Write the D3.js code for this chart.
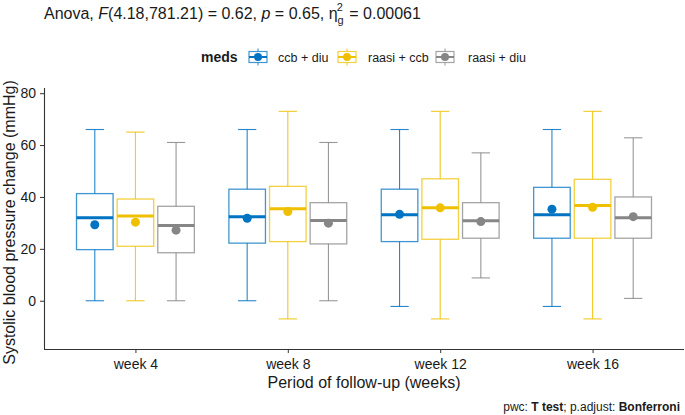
<!DOCTYPE html>
<html>
<head>
<meta charset="utf-8">
<script src="https://cdn.jsdelivr.net/npm/d3@7"></script>
<style>
  body { margin: 0; background: #fff; }
  text { font-family: "Liberation Sans", Arial, sans-serif; fill: #1a1a1a; }
</style>
</head>
<body>
<svg class="chart_svg" width="685" height="415"></svg>
<script>
// categories
var weeks = ["week 4", "week 8", "week 12", "week 16"];
var meds = ["ccb + diu", "raasi + ccb", "raasi + diu"];
var colors = ["#0073C2", "#EFC000", "#868686"];

// per week: [lower whisker, q1, median, q3, upper whisker, mean]
var ccbDiu = [
  [0, 19.7, 32, 41.3, 66, 29.3],
  [0, 22.2, 32.4, 43, 66, 31.8],
  [-2.2, 22.8, 33.1, 43, 66, 33.3],
  [-2.2, 24.1, 33.1, 43.7, 66, 35.3]
];
var raasiCcb = [
  [0, 21, 32.7, 39.2, 65, 30.3],
  [-7, 22.8, 35.5, 44.1, 73, 34.4],
  [-7, 23.7, 35.8, 47, 73, 35.8],
  [-7, 24.1, 36.7, 46.8, 73, 36]
];
var raasiDiu = [
  [0, 18.5, 29, 36.4, 61, 27.2],
  [0, 21.9, 30.9, 37.8, 61, 29.9],
  [8.8, 24.1, 30.8, 37.8, 57, 30.5],
  [0.9, 24.1, 32, 40, 62.8, 32.4]
];
var yTicks = [0, 20, 40, 60, 80];

var series = [ccbDiu, raasiCcb, raasiDiu];

var margin = { top: 88, right: 1, bottom: 66, left: 44 },
  w = 685 - margin.left - margin.right,
  h = 415 - margin.top - margin.bottom;

var svg = d3.select(".chart_svg");
var g = svg.append("g").attr("transform", `translate(${margin.left}, ${margin.top})`);

// discrete axis like ggplot: 0.6 expand on each side
var step = w / (weeks.length + 0.2);
var x_scale = d3.scalePoint().domain(weeks).range([0.6 * step, w - 0.6 * step]);
var slot = step * 0.8 / meds.length;
var x_dodge = d3.scaleBand().domain(meds).range([-slot * 1.5, slot * 1.5]);
var boxW = slot * 0.9;

var y_scale = d3.scaleLinear().domain([-18.6, 82]).range([h, 0]);

// axes
var xAxis = g.append("g")
  .attr("transform", `translate(0, ${h})`)
  .call(d3.axisBottom(x_scale).tickSize(4).tickPadding(6));
var yAxis = g.append("g")
  .call(d3.axisLeft(y_scale).tickValues(yTicks).tickSize(4).tickPadding(4));
[xAxis, yAxis].forEach(function (a) {
  a.select(".domain").attr("stroke", "#333").attr("stroke-width", 1.1);
  a.selectAll(".tick line").attr("stroke", "#333");
  a.selectAll(".tick text").style("font-size", "14px").attr("fill", "#1a1a1a")
    .style("font-family", "'Liberation Sans', Arial, sans-serif");
});
xAxis.select(".domain").attr("d", `M0,0.5H${w}`);
yAxis.select(".domain").attr("d", `M0.5,0V${h}`);

// boxes
series.forEach(function (rows, si) {
  var col = colors[si];
  var sg = g.append("g");
  var grp = sg.selectAll("g.box")
    .data(rows.map(function (r, i) { return { week: weeks[i], v: r }; }))
    .join("g")
    .attr("class", "box")
    .attr("transform", function (d) {
      return `translate(${x_scale(d.week) + x_dodge(meds[si]) + x_dodge.bandwidth() / 2}, 0)`;
    });

  grp.append("line")
    .attr("y1", function (d) { return y_scale(d.v[0]); })
    .attr("y2", function (d) { return y_scale(d.v[4]); })
    .attr("stroke", col).attr("stroke-width", 1.1).attr("stroke-opacity", 0.85);
  grp.selectAll("line.cap")
    .data(function (d) { return [d.v[0], d.v[4]]; })
    .join("line")
    .attr("class", "cap")
    .attr("x1", -boxW / 4).attr("x2", boxW / 4)
    .attr("y1", function (d) { return y_scale(d); })
    .attr("y2", function (d) { return y_scale(d); })
    .attr("stroke", col).attr("stroke-width", 1.1).attr("stroke-opacity", 0.85);
  grp.append("rect")
    .attr("x", -boxW / 2).attr("width", boxW)
    .attr("y", function (d) { return y_scale(d.v[3]); })
    .attr("height", function (d) { return y_scale(d.v[1]) - y_scale(d.v[3]); })
    .attr("fill", "#fff")
    .attr("stroke", col).attr("stroke-width", 1.3).attr("stroke-opacity", 0.75);
  grp.append("line")
    .attr("x1", -boxW / 2).attr("x2", boxW / 2)
    .attr("y1", function (d) { return y_scale(d.v[2]); })
    .attr("y2", function (d) { return y_scale(d.v[2]); })
    .attr("stroke", col).attr("stroke-width", 3);
  grp.append("circle")
    .attr("cy", function (d) { return y_scale(d.v[5]); })
    .attr("r", 4.5)
    .attr("fill", col);
});

// title
var title = svg.append("text").attr("x", 44).attr("y", 19).style("font-size", "16px");
title.append("tspan").text("Anova, ");
title.append("tspan").style("font-style", "italic").text("F");
title.append("tspan").text("(4.18,781.21) = 0.62, ");
title.append("tspan").style("font-style", "italic").text("p");
title.append("tspan").text(" = 0.65, η");
title.append("tspan").attr("dy", 5).style("font-size", "11px").text("g");
title.append("tspan").attr("dx", -7).attr("dy", -13).style("font-size", "11px").text("2");
title.append("tspan").attr("dx", 2).attr("dy", 8).text(" = 0.00061");

// legend
var legend = svg.append("g").attr("transform", "translate(0, 57)");
legend.append("text").attr("x", 201).attr("y", 5)
  .style("font-size", "14px").style("font-weight", "bold").text("meds");
var keyX = [258, 347, 445];
var labelX = [278, 368, 468];
meds.forEach(function (m, i) {
  var k = legend.append("g").attr("transform", `translate(${keyX[i]}, 0)`);
  k.append("line").attr("y1", -8.5).attr("y2", 8.5)
    .attr("stroke", colors[i]).attr("stroke-width", 1).attr("stroke-opacity", 0.85);
  k.append("rect").attr("x", -9).attr("y", -5.5).attr("width", 18).attr("height", 11)
    .attr("fill", "#fff").attr("stroke", colors[i]).attr("stroke-width", 1.2).attr("stroke-opacity", 0.75);
  k.append("line").attr("x1", -9).attr("x2", 9)
    .attr("stroke", colors[i]).attr("stroke-width", 2);
  k.append("circle").attr("r", 4).attr("fill", colors[i]);
  legend.append("text").attr("x", labelX[i]).attr("y", 5)
    .style("font-size", "12.5px").text(m);
});

// axis titles
svg.append("text")
  .attr("x", margin.left + w / 2).attr("y", 388)
  .attr("text-anchor", "middle").style("font-size", "16px")
  .text("Period of follow-up (weeks)");
svg.append("text")
  .attr("transform", `translate(15, ${margin.top + h / 2 + 4}) rotate(-90)`)
  .attr("text-anchor", "middle").style("font-size", "16px")
  .text("Systolic blood pressure change (mmHg)");

// caption
var cap = svg.append("text").attr("x", 680).attr("y", 411)
  .attr("text-anchor", "end").style("font-size", "12px");
cap.append("tspan").text("pwc: ");
cap.append("tspan").style("font-weight", "bold").text("T test");
cap.append("tspan").text("; p.adjust: ");
cap.append("tspan").style("font-weight", "bold").text("Bonferroni");
</script>
</body>
</html>
